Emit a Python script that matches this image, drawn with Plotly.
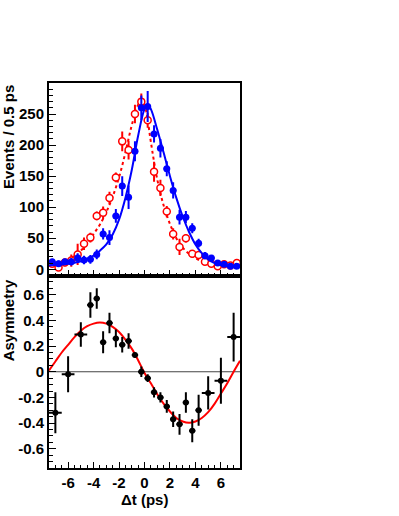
import plotly.graph_objects as go

# ---- top panel: event counts per 0.5 ps bin ----
bin_centers = [-7.25, -6.75, -6.25, -5.75, -5.25, -4.75, -4.25, -3.75, -3.25, -2.75,
               -2.25, -1.75, -1.25, -0.75, -0.25, 0.25, 0.75, 1.25, 1.75, 2.25,
               2.75, 3.25, 3.75, 4.25, 4.75, 5.25, 5.75, 6.25, 6.75, 7.25]
bin_half = [0.25] * 30

blue_counts = [12, 9, 12, 12, 18, 15, 16, 24, 57, 51,
               86, 134, 116, 190, 260, 262, 218, 195, 162, 127,
               84, 84, 66, 42, 22, 18, 10, 8, 5, 5]
blue_err = [5, 5, 5, 6, 8, 7, 7, 8, 9, 12,
            11, 16, 19, 16, 20, 25, 14, 15, 12, 13,
            12, 10, 8, 7, 6, 5, 4, 4, 3, 3]

red_counts = [9, 3, 11, 14, 24, 41, 51, 86, 91, 115,
              148, 206, 192, 250, 270, 240, 157, 131, 93, 57,
              36, 50, 25, 23, 12, 9, 5, 8, 6, 10]
red_err = [4, 4, 6, 10, 17, 10, 8, 7, 10, 10,
           8, 16, 15, 15, 13, 12, 16, 13, 9, 9,
           13, 7, 6, 6, 4, 4, 3, 4, 3, 4]

# fit curves
blue_fit_t = [-7.5, -7, -6, -5, -4.5, -4, -3.5, -3, -2.5, -2, -1.5, -1, -0.5, 0, 0.25,
              0.5, 1, 1.5, 2, 2.5, 3, 3.5, 4, 4.5, 5, 5.5, 6, 6.5, 7, 7.5]
blue_fit_n = [6, 7, 9, 13, 17, 22, 30, 40, 56, 80, 115, 160, 215, 258, 265,
              258, 225, 188, 150, 115, 85, 60, 40, 26, 16, 10, 7, 5, 4, 4]

red_fit_t = [-7.5, -7, -6.5, -6, -5.5, -5, -4.5, -4, -3.5, -3, -2.5, -2, -1.5, -1, -0.5,
             -0.25, 0, 0.25, 0.5, 1, 1.5, 2, 2.5, 3, 3.5, 4, 4.5, 5, 5.5, 6, 7, 7.5]
red_fit_n = [6, 8, 11, 15, 22, 30, 42, 57, 72, 92, 117, 148, 188, 232, 265,
             272, 265, 240, 205, 145, 103, 73, 50, 35, 25, 18, 13, 9, 7, 6, 5, 5]

# ---- bottom panel: asymmetry ----
asym_t = [-7, -6, -5, -4.25, -3.75, -3.25, -2.75, -2.25, -1.75, -1.25, -0.75, -0.25,
          0.25, 0.75, 1.25, 1.75, 2.25, 2.75, 3.25, 3.75, 4.25, 5, 6, 7]
asym_val = [-0.32, -0.02, 0.29, 0.52, 0.57, 0.23, 0.38, 0.26, 0.21, 0.24, 0.13, 0.0,
            -0.05, -0.16, -0.20, -0.27, -0.37, -0.41, -0.24, -0.46, -0.30, -0.165, -0.07, 0.27]
asym_err = [0.16, 0.14, 0.095, 0.10, 0.08, 0.085, 0.08, 0.07, 0.06, 0.06, 0.02, 0.04,
            0.03, 0.04, 0.04, 0.05, 0.06, 0.08, 0.08, 0.09, 0.12, 0.13, 0.18, 0.19]
asym_xerr = [0.5, 0.5, 0.5, 0.25, 0.25, 0.25, 0.25, 0.25, 0.25, 0.25, 0.25, 0.25,
             0.25, 0.25, 0.25, 0.25, 0.25, 0.25, 0.25, 0.25, 0.25, 0.5, 0.5, 0.5]

asym_fit_t = [-7.5, -7, -6.5, -6, -5.5, -5, -4.5, -4, -3.5, -3, -2.5, -2, -1.5, -1, -0.5,
              0, 0.5, 1, 1.5, 2, 2.5, 3, 3.5, 4, 4.5, 5, 5.5, 6, 6.5, 7, 7.5]
asym_fit_v = [0.01, 0.08, 0.15, 0.21, 0.27, 0.32, 0.355, 0.375, 0.383, 0.375, 0.35, 0.31,
              0.25, 0.18, 0.09, -0.01, -0.09, -0.175, -0.248, -0.31, -0.36, -0.388, -0.398,
              -0.388, -0.36, -0.315, -0.25, -0.17, -0.09, 0.0, 0.085]

x_ticks = [-6, -4, -2, 0, 2, 4, 6]
x_ticklabels = ["-6", "-4", "-2", "0", "2", "4", "6"]
top_ticks = [0, 50, 100, 150, 200, 250]
top_ticklabels = ["0", "50", "100", "150", "200", "250"]
bot_ticks = [-0.6, -0.4, -0.2, 0, 0.2, 0.4, 0.6]
bot_ticklabels = ["-0.6", "-0.4", "-0.2", "0", "0.2", "0.4", "0.6"]

FONT = "Liberation Sans"
BLUE = "#0000ff"
RED = "#ff0000"

fig = go.Figure()

# top panel
fig.add_trace(go.Scatter(x=red_fit_t, y=red_fit_n, mode="lines", line=dict(color=RED, width=2, dash="dot", shape="spline"),
                         xaxis="x", yaxis="y", hoverinfo="skip"))
fig.add_trace(go.Scatter(x=bin_centers, y=red_counts, mode="markers",
                         marker=dict(symbol="circle", size=7, color="white", line=dict(width=1.5, color=RED)),
                         error_y=dict(type="data", array=red_err, color=RED, thickness=2, width=0),
                         error_x=dict(type="data", array=bin_half, color=RED, thickness=1, width=0),
                         xaxis="x", yaxis="y"))
fig.add_trace(go.Scatter(x=blue_fit_t, y=blue_fit_n, mode="lines", line=dict(color=BLUE, width=2, shape="spline"),
                         xaxis="x", yaxis="y", hoverinfo="skip"))
fig.add_trace(go.Scatter(x=bin_centers, y=blue_counts, mode="markers",
                         marker=dict(symbol="circle", size=7, color=BLUE),
                         error_y=dict(type="data", array=blue_err, color=BLUE, thickness=2, width=0),
                         error_x=dict(type="data", array=bin_half, color=BLUE, thickness=2, width=0),
                         xaxis="x", yaxis="y"))

# bottom panel
fig.add_trace(go.Scatter(x=[-7.5, 7.5], y=[0, 0], mode="lines", line=dict(color="#444444", width=1),
                         xaxis="x2", yaxis="y2", hoverinfo="skip"))
fig.add_trace(go.Scatter(x=asym_fit_t, y=asym_fit_v, mode="lines", line=dict(color=RED, width=2, shape="spline"),
                         xaxis="x2", yaxis="y2", hoverinfo="skip"))
fig.add_trace(go.Scatter(x=asym_t, y=asym_val, mode="markers",
                         marker=dict(symbol="circle", size=6, color="black"),
                         error_y=dict(type="data", array=asym_err, color="black", thickness=2, width=0),
                         error_x=dict(type="data", array=asym_xerr, color="black", thickness=2, width=0),
                         xaxis="x2", yaxis="y2"))

axis_common = dict(showline=True, linecolor="black", linewidth=2, mirror=True, showgrid=False, zeroline=False,
                   ticks="inside", tickcolor="black", tickwidth=1, automargin=False,
                   tickfont=dict(family=FONT, size=15, color="black", weight="bold"))

def bold(labels):
    return ["<b>%s</b>" % s for s in labels]

title_font = dict(family=FONT, size=15, color="black", weight="bold")

fig.update_layout(
    width=399, height=516,
    margin=dict(l=49, r=159, t=83, b=48),
    paper_bgcolor="white", plot_bgcolor="white",
    showlegend=False,
    xaxis=dict(**axis_common, range=[-7.5, 7.5], domain=[0, 1], anchor="y", matches="x2",
               tickvals=x_ticks, showticklabels=False, ticklen=6,
               minor=dict(dtick=0.5, tick0=0, ticks="inside", ticklen=3, tickcolor="black")),
    yaxis=dict(**axis_common, range=[-10, 300], domain=[0.5, 1], anchor="x",
               tickvals=top_ticks, ticktext=bold(top_ticklabels), ticklen=7,
               minor=dict(dtick=10, tick0=0, ticks="inside", ticklen=4, tickcolor="black")),
    xaxis2=dict(**axis_common, range=[-7.5, 7.5], domain=[0, 1], anchor="y2",
                tickvals=x_ticks, ticktext=bold(x_ticklabels), ticklen=6,
                minor=dict(dtick=0.5, tick0=0, ticks="inside", ticklen=3, tickcolor="black")),
    yaxis2=dict(**axis_common, range=[-0.75, 0.75], domain=[0, 0.5], anchor="x2",
                tickvals=bot_ticks, ticktext=bold(bot_ticklabels), ticklen=7,
                minor=dict(dtick=0.05, tick0=0, ticks="inside", ticklen=4, tickcolor="black")),
    annotations=[
        dict(text="<b>Events / 0.5 ps</b>", xref="paper", yref="paper", x=-0.215, y=1.0,
             xanchor="center", yanchor="top", textangle=-90, showarrow=False, font=title_font),
        dict(text="<b>Asymmetry</b>", xref="paper", yref="paper", x=-0.215, y=0.495,
             xanchor="center", yanchor="top", textangle=-90, showarrow=False, font=title_font),
        dict(text="<b>Δt (ps)</b>", xref="paper", yref="paper", x=0.5, y=-0.083,
             xanchor="center", yanchor="middle", showarrow=False, font=title_font),
    ],
)

fig.write_html("out.html", config={"displayModeBar": False},
               post_script="document.body.style.margin='0px';document.body.style.overflow='hidden';")
